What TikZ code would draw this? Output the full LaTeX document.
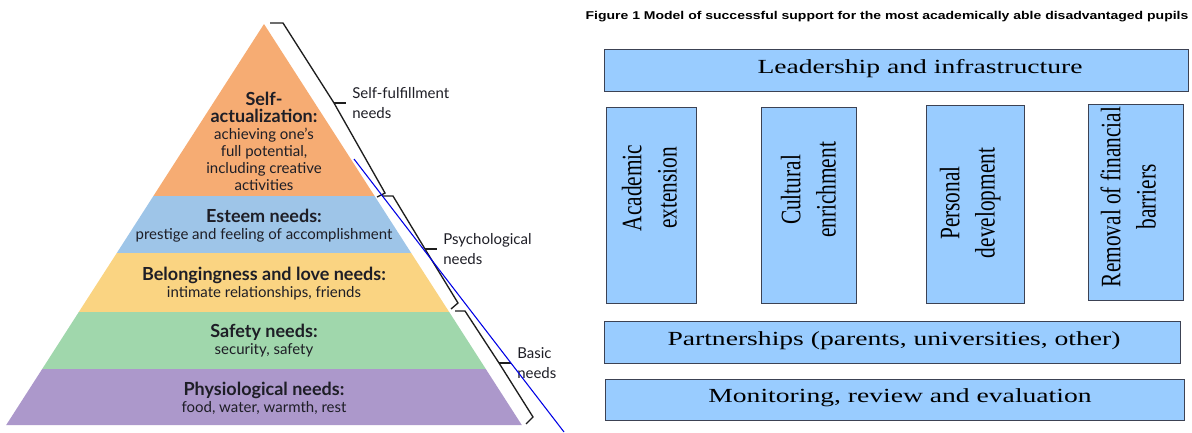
\documentclass[tikz,border=0pt]{standalone}
\usepackage{fontspec}
\usepackage{graphicx}
\setmainfont{Liberation Serif}
\newfontfamily\pyrfont{Lato}
\newfontfamily\headfont{Liberation Sans}
\usepackage{tikz}
\usetikzlibrary{positioning}
\definecolor{selfcol}{RGB}{246,172,115}
\definecolor{esteemcol}{RGB}{158,197,232}
\definecolor{lovecol}{RGB}{250,212,130}
\definecolor{safecol}{RGB}{160,215,172}
\definecolor{physcol}{RGB}{172,152,203}
\definecolor{pyrtext}{RGB}{30,30,38}
\definecolor{boxfill}{RGB}{153,204,255}
\definecolor{boxline}{RGB}{60,66,84}
\definecolor{bracecol}{RGB}{30,30,30}
\newcommand{\wide}[1]{\scalebox{1.38}[1]{#1}}
\newcommand{\tall}[1]{\scalebox{1}[1.32]{\begin{tabular}{@{}c@{}}#1\end{tabular}}}
\newcommand{\hd}[1]{{\fontsize{13.5}{12.75}\selectfont\bfseries #1}}

\begin{document}
\begin{tikzpicture}[x=0.75pt,y=-0.75pt,
    every node/.style={inner sep=0pt},
    layer/.style={font=\pyrfont\fontsize{11.25}{12.75}\selectfont,align=center,text=pyrtext},
    needs/.style={font=\pyrfont\fontsize{11.25}{15}\selectfont,align=left,text=pyrtext,anchor=west},
    brace/.style={draw=bracecol,line width=1pt,line join=miter},
    panel/.style={draw=boxline,fill=boxfill,line width=0.75pt},
    sz/.style 2 args={minimum width=#1*0.75pt,minimum height=#2*0.75pt},
    paneltext/.style={font=\fontsize{15}{18}\selectfont},
    sidetext/.style={font=\fontsize{16}{20}\selectfont,rotate=90}]
  \useasboundingbox (0,0) rectangle (1192,432);
  % pyramid
  \fill[selfcol] (264,24) -- (374.6,196) -- (153.4,196) -- cycle;
  \fill[esteemcol] (153.4,196) -- (374.6,196) -- (411.2,253) -- (116.8,253) -- cycle;
  \fill[lovecol] (116.8,253) -- (411.2,253) -- (449.2,312) -- (78.8,312) -- cycle;
  \fill[safecol] (78.8,312) -- (449.2,312) -- (485.8,369) -- (42.2,369) -- cycle;
  \fill[physcol] (42.2,369) -- (485.8,369) -- (521.8,425) -- (6.2,425) -- cycle;
  \node[layer] (self) at (264,141) {\hd{Self-}\\\hd{actualization:}\\achieving one’s\\full potential,\\including creative\\activities};
  \node[layer] (esteem) at (264,226) {\hd{Esteem needs:}\\prestige and feeling of accomplishment};
  \node[layer] (love) at (264,284) {\hd{Belongingness and love needs:}\\intimate relationships, friends};
  \node[layer] (safety) at (264,341) {\hd{Safety needs:}\\security, safety};
  \node[layer] (phys) at (264,398) {\hd{Physiological needs:}\\food, water, warmth, rest};
  % brackets
  \draw[brace] (270,23) -- (283,23) -- (334,103) coordinate (m1) -- (385,193) -- (377,197);
  \draw[brace] (m1) -- ++(12,0) coordinate (t1);
  \draw[brace] (382,196) -- (393,196) -- (425,249) coordinate (m2) -- (458,303) -- (451,309);
  \draw[brace] (m2) -- ++(12,0) coordinate (t2);
  \draw[brace] (455,311) -- (465,311) -- (499,363) coordinate (m3) -- (533,417) -- (526,424);
  \draw[brace] (m3) -- ++(12,0) coordinate (t3);
  \node[needs,right=4.5pt of t1] (fulfil) {Self-fulfillment\\needs};
  \node[needs,right=4.5pt of t2] (psych) {Psychological\\needs};
  \node[needs,right=4.5pt of t3] (basic) {Basic\\needs};
  \draw[blue!90!black,line width=0.8pt] (354,159) -- (564,432);
  % model of support
  \node[font=\headfont\bfseries\fontsize{8.5}{10}\selectfont] (title) at (887,17)
    {\scalebox{1.235}[1]{Figure 1 Model of successful support for the most academically able disadvantaged pupils}};
  \node[panel,sz={584}{42}] (lead) at (896,70) {};
  \node[paneltext] (leadtxt) at (920,69) {\wide{Leadership and infrastructure}};
  \node[panel,sz={90}{196}] (acad) at (651,205) {};
  \node[panel,sz={95}{196}] (cult) at (808.5,205) {};
  \node[panel,sz={98}{198}] (pers) at (975,204) {};
  \node[panel,sz={95}{196}] (remov) at (1135.5,202) {};
  \node[sidetext] (acadtxt) at (652,188) {\tall{Academic\\extension}};
  \node[sidetext] (culttxt) at (811,190) {\tall{Cultural\\enrichment}};
  \node[sidetext] (perstxt) at (970,203) {\tall{Personal\\development}};
  \node[sidetext] (removtxt) at (1131,197) {\tall{Removal of financial\\barriers}};
  \node[panel,sz={576}{42}] (part) at (892,342) {};
  \node[paneltext] (parttxt) at (894,341) {\wide{Partnerships (parents, universities, other)}};
  \node[panel,sz={579}{41}] (moni) at (894.5,399.5) {};
  \node[paneltext] (monitxt) at (900,398) {\wide{Monitoring, review and evaluation}};
\end{tikzpicture}
\end{document}
